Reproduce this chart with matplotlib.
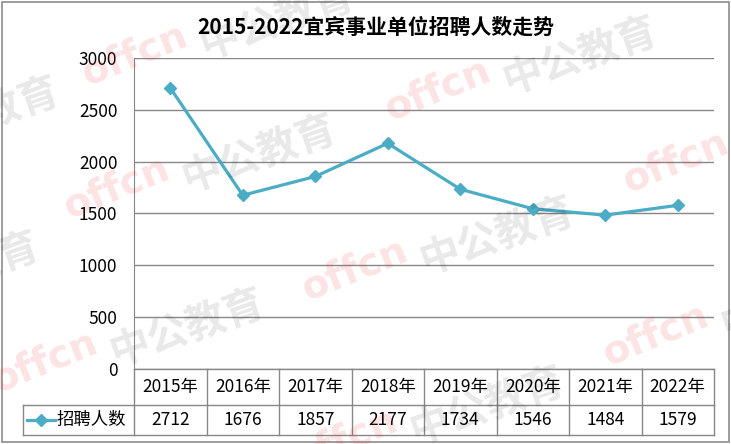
import math
import matplotlib
matplotlib.use('Agg')
import matplotlib.pyplot as plt

plt.rcParams['font.family'] = ['Noto Sans CJK SC', 'DejaVu Sans']
plt.rcParams['axes.unicode_minus'] = False

# --- data ---
title = '2015-2022宜宾事业单位招聘人数走势'
years = ['2015年', '2016年', '2017年', '2018年', '2019年', '2020年', '2021年', '2022年']
series_name = '招聘人数'
hires = [2712, 1676, 1857, 2177, 1734, 1546, 1484, 1579]
y_ticks = [0, 500, 1000, 1500, 2000, 2500, 3000]

W, H = 731, 444
line_color = '#4BACC6'
grid_color = '#878787'

fig = plt.figure(figsize=(W / 100, H / 100), dpi=100)

# pixel-space helper axes for border, table and title
bg = fig.add_axes([0, 0, 1, 1], zorder=0)
bg.set_xlim(0, W)
bg.set_ylim(H, 0)
bg.axis('off')

# plot area in pixels
px0, px1, py0, py1 = 134, 714, 58, 369
ax = fig.add_axes([px0 / W, (H - py1) / H, (px1 - px0) / W, (py1 - py0) / H], zorder=1)
ax.patch.set_alpha(0)

x = list(range(len(hires)))
ax.plot(x, hires, color=line_color, lw=2.3, marker='D', ms=6,
        markerfacecolor=line_color, markeredgecolor=line_color, zorder=3)
ax.set_xlim(-0.5, len(hires) - 0.5)
ax.set_ylim(0, 3000)
ax.set_yticks(y_ticks)
ax.set_xticks([])
ax.tick_params(axis='y', length=0, pad=12, labelsize=12.5)
for s in ['top', 'right', 'bottom']:
    ax.spines[s].set_visible(False)
ax.spines['left'].set_color(grid_color)
ax.yaxis.grid(True, color=grid_color, lw=1)
ax.set_axisbelow(True)

# outer chart border
bg.add_patch(plt.Rectangle((2, 2), W - 4, H - 4, fill=False, ec='#8c8c8c', lw=1.2))

# title
bg.text(376, 27, title, ha='center', va='center', fontsize=15, fontweight='bold')

# --- data table below the chart ---
row_mid = 405
row_bot = 435
leg_left = 23
col_w = (px1 - px0) / len(years)
tcol = grid_color
bg.plot([px0, px1], [py1, py1], color=tcol, lw=1)
bg.plot([leg_left, px1], [row_mid, row_mid], color=tcol, lw=1)
bg.plot([leg_left, px1], [row_bot, row_bot], color=tcol, lw=1)
bg.plot([leg_left, leg_left], [row_mid, row_bot], color=tcol, lw=1)
for i in range(len(years) + 1):
    xc = px0 + i * col_w
    bg.plot([xc, xc], [py1, row_bot], color=tcol, lw=1)
for i, (yr, v) in enumerate(zip(years, hires)):
    xc = px0 + (i + 0.5) * col_w
    bg.text(xc, (py1 + row_mid) / 2, yr, ha='center', va='center', fontsize=12.5)
    bg.text(xc, (row_mid + row_bot) / 2, str(v), ha='center', va='center', fontsize=12.5)
legy = (row_mid + row_bot) / 2
bg.plot([27, 55], [legy, legy], color=line_color, lw=2.3)
bg.plot([41], [legy], marker='D', ms=6, color=line_color)
bg.text(57, legy, series_name, ha='left', va='center', fontsize=12.5)

# --- watermarks (offcn logo + 中公教育), semi transparent overlay ---
wm = fig.add_axes([0, 0, 1, 1], zorder=5)
wm.set_xlim(0, W)
wm.set_ylim(H, 0)
wm.axis('off')
marks = [(135, 55), (117, 188), (438, 90), (676, 162), (45, 362),
         (355, 270), (656, 335), (345, 440), (-160, 150), (-180, 305)]
ang = 22
for cx, cy in marks:
    wm.text(cx, cy, 'offcn', ha='center', va='center', rotation=ang, fontsize=28,
            fontweight='bold', color=(0.92, 0.2, 0.25), alpha=0.14, family='DejaVu Sans')
    wm.text(cx + 142, cy - 33, '中公教育', ha='center', va='center',
            rotation=ang - 3, fontsize=29, fontweight='bold', color='black', alpha=0.09)

fig.savefig('out.png', dpi=100)
